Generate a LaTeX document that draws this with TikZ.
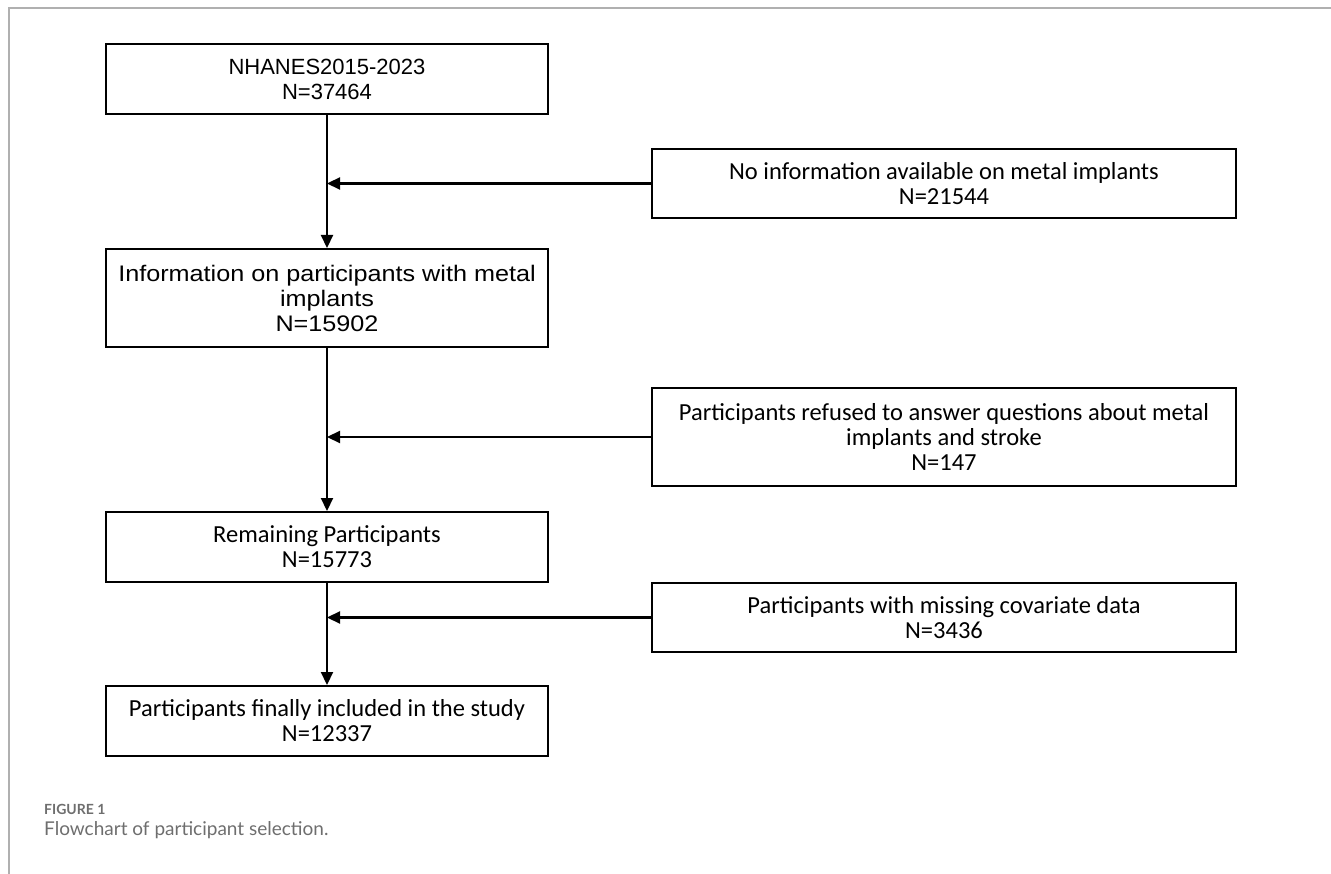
\documentclass[tikz,border=0pt]{standalone}
\usepackage{fontspec}
\setmainfont{Carlito}
\newfontfamily\widefont[FakeStretch=1.12]{Liberation Sans}
\newfontfamily\plainfont{Liberation Sans}
\newfontfamily\capfont{Lato}
\usepackage{tikz}
\usetikzlibrary{arrows.meta, positioning}

\definecolor{framegray}{HTML}{B0B0B0}
\definecolor{capgray}{HTML}{6E6E6E}

\begin{document}
\begin{tikzpicture}[
  x=1pt, y=-1pt,
  box/.style = {draw, line width=2pt, minimum width=442pt, align=center,
                font=\fontsize{24.5}{25}\selectfont, inner sep=0pt},
  sidebox/.style = {box, minimum width=584pt},
  arrow/.style = {line width=2.2pt, -{Triangle[length=13pt, width=12pt]}},
  node distance=133pt
]
  \useasboundingbox (0,0) rectangle (1331,874);

  % frame
  \draw[framegray, line width=1.5pt] (9,874) -- (9,8) -- (1331,8);

  % main column
  \node[box, minimum height=70pt, font=\plainfont\fontsize{22}{25}\selectfont] (nhanes) at (327,79) {NHANES2015-2023\\N=37464};
  \node[box, minimum height=98pt, below=133pt of nhanes, font=\widefont\fontsize{22.5}{25}\selectfont] (implant) {Information on participants with metal\\implants\\N=15902};
  \node[box, minimum height=70pt, below=163pt of implant] (remain) {Remaining Participants\\N=15773};
  \node[box, minimum height=70pt, below=102pt of remain] (final) {Participants finally included in the study\\N=12337};

  % exclusions
  \node[sidebox, minimum height=69pt] (noinfo) at (944,183.5) {No information available on metal implants\\N=21544};
  \node[sidebox, minimum height=98pt] (refused) at (944,437) {Participants refused to answer questions about metal\\implants and stroke\\N=147};
  \node[sidebox, minimum height=69pt] (missing) at (944,617.5) {Participants with missing covariate data\\N=3436};

  % flow
  \draw[arrow] (nhanes.south) -- (implant.north);
  \draw[arrow] (implant.south) -- (remain.north);
  \draw[arrow] (remain.south) -- (final.north);

  % exclusion arrows
  \draw[arrow] (noinfo.west) -- (noinfo.west -| nhanes.south);
  \draw[arrow] (refused.west) -- (refused.west -| implant.south);
  \draw[arrow] (missing.west) -- (missing.west -| remain.south);

  % caption
  \node[anchor=west, inner sep=0pt, text=capgray, font=\capfont\bfseries\fontsize{14}{16}\selectfont] (figlabel) at (44,809) {FIGURE 1};
  \node[anchor=west, inner sep=0pt, text=capgray, font=\capfont\fontsize{19}{22}\selectfont] (figcaption) at (44,830) {Flowchart of participant selection.};
\end{tikzpicture}
\end{document}
